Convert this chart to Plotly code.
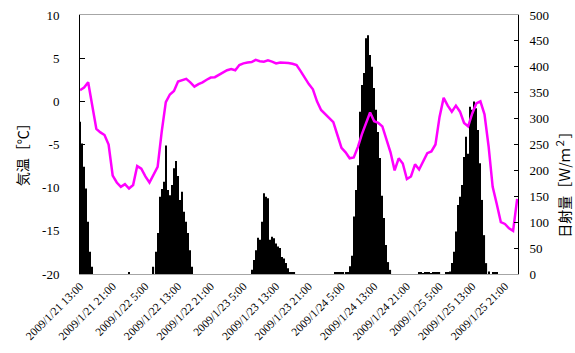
import pandas as pd
import plotly.graph_objects as go

# --- Data -------------------------------------------------------------------
start = pd.Timestamp("2009-01-21 13:00")

# Air temperature [degC], hourly from 2009/1/21 13:00
temp_c = [
    1.3, 1.6, 2.2, -0.3, -3.2, -3.6, -3.9, -5.0, -8.6, -9.4,
    -9.9, -9.6, -10.1, -9.7, -7.5, -7.8, -8.7, -9.4, -8.5, -7.6,
    -3.5, -0.1, 0.8, 1.2, 2.3, 2.45, 2.6, 2.2, 1.7, 2.0,
    2.2, 2.5, 2.75, 2.8, 3.1, 3.4, 3.6, 3.75, 3.6, 4.2,
    4.4, 4.5, 4.55, 4.8, 4.65, 4.6, 4.75, 4.6, 4.4, 4.5,
    4.5, 4.45, 4.35, 4.2, 3.5, 2.7, 2.0, 1.4, 0.0, -1.0,
    -1.5, -1.95, -2.4, -3.9, -5.4, -5.9, -6.6, -6.5, -5.3, -3.8,
    -2.6, -1.3, -2.3, -2.5, -2.9, -4.5, -5.9, -8.0, -6.6, -7.2,
    -9.0, -8.7, -7.3, -7.9, -6.9, -6.0, -5.8, -5.0, -1.8, 0.4,
    -0.5, -1.2, -0.5, -1.2, -2.5, -2.9, -1.4, -0.25, 0.0, -1.5,
    -5.2, -9.9, -11.9, -14.0, -14.2, -14.7, -15.0, -11.3,
]

# Solar radiation [W/m2], 30-minute values; each block starts at the given time
rad_blocks = [
    ("2009-01-21 13:00", [294, 252, 207, 165, 101, 43, 14]),
    ("2009-01-22 01:00", [3]),
    ("2009-01-22 07:00", [14, 43, 79, 149, 164, 178, 248, 162, 152, 172,
                          204, 218, 189, 143, 159, 120, 101, 79, 46, 14]),
    ("2009-01-23 07:00", [8, 27, 46, 70, 66, 101, 156, 149, 146, 66, 72,
                          69, 59, 53, 50, 33, 30, 21, 11, 4, 3, 2]),
    ("2009-01-24 03:30", [2, 2, 2, 2, 2, 2, 2]),
    ("2009-01-24 07:00", [15, 35, 111, 162, 210, 313, 365, 388, 455, 461,
                          423, 400, 359, 317, 274, 224, 151, 108, 56, 23, 8]),
    ("2009-01-25 00:00", [2, 2, 1, 2, 2, 2, 1, 2, 2, 2, 2]),
    ("2009-01-25 06:30", [2, 2]),
    ("2009-01-25 07:30", [5, 21, 43, 82, 133, 149, 172, 226, 265, 232,
                          323, 317, 333, 320, 278, 214, 143, 75, 21, 5]),
    ("2009-01-25 18:00", [3, 2, 2]),
]

# Category labels every 8 hours
tick_times = [start + pd.Timedelta(hours=8 * k) for k in range(14)]
tick_text = [f"{t.year}/{t.month}/{t.day} {t.hour}:00" for t in tick_times]

temp_ticks = [-20, -15, -10, -5, 0, 5, 10]
rad_ticks = list(range(0, 501, 50))

# --- Build series ------------------------------------------------------------
temp_times = pd.date_range(start, periods=len(temp_c), freq="h")

rad_times, rad_vals = [], []
for t0, vals in rad_blocks:
    times = pd.date_range(pd.Timestamp(t0), periods=len(vals), freq="30min")
    rad_times.extend(times)
    rad_vals.extend(vals)

half_hour_ms = 30 * 60 * 1000
serif = "Liberation Serif, Noto Sans CJK JP"
cjk = "Noto Sans CJK JP, Liberation Serif"

fig = go.Figure()
fig.add_trace(go.Bar(
    x=rad_times, y=rad_vals, yaxis="y",
    width=[half_hour_ms * 0.55] * len(rad_vals),
    marker=dict(color="#000000", line=dict(width=0)),
))
fig.add_trace(go.Scatter(
    x=temp_times, y=temp_c, yaxis="y2", mode="lines",
    line=dict(color="#FF00FF", width=2.5),
))

fig.update_layout(
    width=575, height=353,
    margin=dict(l=80, r=57, t=15, b=79, autoexpand=False),
    plot_bgcolor="white", paper_bgcolor="white",
    showlegend=False,
    font=dict(family=serif, color="#000000"),
    xaxis=dict(
        type="date", automargin=False,
        range=[start, start + pd.Timedelta(hours=107.2)],
        tickvals=tick_times, ticktext=tick_text, tickangle=-45,
        tickfont=dict(size=11.5, family=serif),
        showline=True, linecolor="#a6a6a6", linewidth=1, mirror=True,
        showgrid=False, ticks="", zeroline=False,
    ),
    yaxis=dict(
        side="right", range=[0, 500], tickvals=rad_ticks, automargin=False,
        ticks="inside", ticklen=4, tickcolor="#000000",
        showline=True, linecolor="#000000", linewidth=1,
        showgrid=False, zeroline=False,
        tickfont=dict(size=13, family=serif),
        ticklabelstandoff=8,
    ),
    yaxis2=dict(
        overlaying="y", side="left", range=[-20, 10], automargin=False,
        tickvals=temp_ticks, ticktext=[str(v) for v in temp_ticks],
        ticks="inside", ticklen=5, tickcolor="#000000",
        showline=True, linecolor="#000000", linewidth=1,
        showgrid=False, zeroline=False,
        tickfont=dict(size=13, family=serif),
        ticklabelstandoff=17,
    ),
    annotations=[
        dict(text="気温［℃］", textangle=-90, xref="paper", yref="paper",
             x=-0.132, y=0.475, xanchor="center", yanchor="middle",
             showarrow=False, font=dict(size=14, family=cjk)),
        dict(text="日射量［Ｗ/ｍ<sup>２</sup>］", textangle=-90,
             xref="paper", yref="paper",
             x=1.105, y=0.36, xanchor="center", yanchor="middle",
             showarrow=False, font=dict(size=14, family=cjk)),
    ],
)

fig.write_html("out.html")
